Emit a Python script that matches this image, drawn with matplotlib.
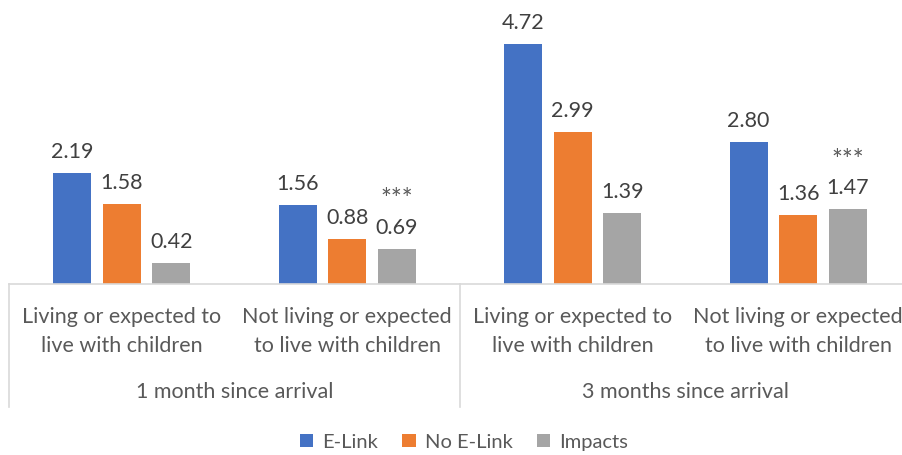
import matplotlib
matplotlib.use("Agg")
import matplotlib.pyplot as plt
import numpy as np

# Data
periods = ["1 month since arrival", "3 months since arrival"]
household = ["Living or expected to\nlive with children",
             "Not living or expected\nto live with children",
             "Living or expected to\nlive with children",
             "Not living or expected\nto live with children"]
series_names = ["E-Link", "No E-Link", "Impacts"]
elink = [2.19, 1.56, 4.72, 2.80]
no_elink = [1.58, 0.88, 2.99, 1.36]
impacts = [0.42, 0.69, 1.39, 1.47]
significance = ["", "***", "", "***"]

colors = ["#4472C4", "#ED7D31", "#A5A5A5"]
plt.rcParams["font.family"] = ["Lato", "DejaVu Sans"]
FS = 15.5

W, H = 902, 456
fig = plt.figure(figsize=(W / 100, H / 100), dpi=100)
axis_px = 285  # pixel row of the category axis
ax = fig.add_axes([9 / W, (H - axis_px) / H, 902 / W, axis_px / H])

x = np.arange(len(household))
width = 0.1685
offset = 0.22
values = [elink, no_elink, impacts]
for i, (vals, name, c) in enumerate(zip(values, series_names, colors)):
    pos = x + (i - 1) * offset
    ax.bar(pos, vals, width=width, color=c, label=name, zorder=2)
    for xi, v in zip(pos, vals):
        ax.annotate(f"{v:.2f}", (xi, v), xytext=(0, 11.5), textcoords="offset points",
                    ha="center", va="baseline", fontsize=FS, color="#404040")

# significance markers above the Impacts labels
for xi, v, s in zip(x + offset, impacts, significance):
    if s:
        ax.annotate(s, (xi, v), xytext=(0, 30), textcoords="offset points",
                    ha="center", va="baseline", fontsize=FS + 3, color="#595959")

ax.set_xlim(-0.5, len(household) - 0.5)
ax.set_ylim(0, axis_px / 50.85)
for side in ["top", "right", "left"]:
    ax.spines[side].set_visible(False)
ax.spines["bottom"].set_color("#D9D9D9")
ax.spines["bottom"].set_linewidth(1.2)
ax.set_xticks([])
ax.set_yticks([])

def ay(py):
    # axes-fraction y for a pixel row below the plot
    return (axis_px - py) / axis_px

tr = ax.get_xaxis_transform()
for xi, lab in zip(x, household):
    ax.text(xi, ay(331.5), lab, transform=tr, ha="center", va="center",
            multialignment="center", fontsize=FS, color="#595959", linespacing=1.6,
            clip_on=False)
for gi, lab in enumerate(periods):
    ax.text(2 * gi + 0.5, ay(392), lab, transform=tr, ha="center", va="center",
            fontsize=FS, color="#595959", clip_on=False)

for xb in [-0.5, 1.5, 3.5]:
    ax.plot([xb, xb], [0, ay(408)], transform=tr, color="#D9D9D9", lw=1.2,
            clip_on=False)

handles, labels = ax.get_legend_handles_labels()
leg = fig.legend(handles, labels, loc="center", bbox_to_anchor=(464 / W, 1 - 443 / H),
                 ncol=3, frameon=False, fontsize=14.5, handlelength=0.65, handleheight=0.65,
                 handletextpad=0.45, columnspacing=1.2, labelcolor="#595959")

fig.savefig("out.png", dpi=100, facecolor="white")
